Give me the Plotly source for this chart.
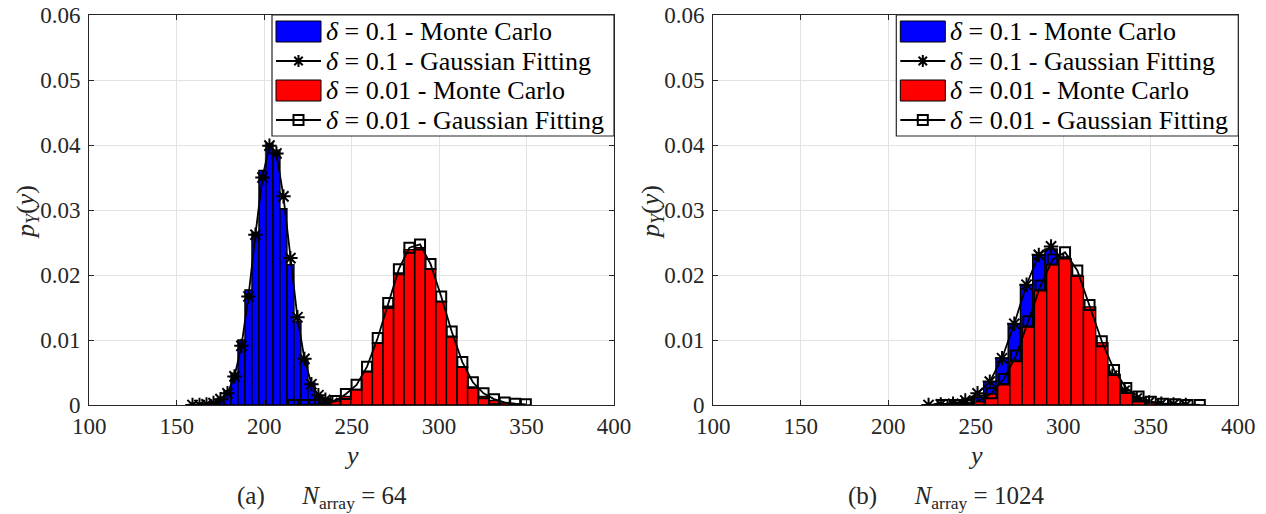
import plotly.graph_objects as go

# ---------------------------------------------------------------- data
x_tick_vals = [100, 150, 200, 250, 300, 350, 400]
x_tick_text = ["100", "150", "200", "250", "300", "350", "400"]
y_tick_vals = [0, 0.01, 0.02, 0.03, 0.04, 0.05, 0.06]
y_tick_text = ["0", "0.01", "0.02", "0.03", "0.04", "0.05", "0.06"]

# (a) N_array = 64, delta = 0.1
a_y_d01 = [159, 163, 167, 171, 175, 179, 183, 187, 191, 195, 199,
           203, 207, 211, 215, 219, 223, 227, 231, 235, 239, 243]
a_mc_d01 = [0.0001, 0.0001, 0.0002, 0.0004, 0.0010, 0.0022, 0.0049, 0.0100,
            0.0177, 0.0265, 0.0361, 0.0402, 0.0392, 0.0302, 0.0216, 0.0129,
            0.0070, 0.0034, 0.0013, 0.0006, 0.0002, 0.0001]
a_fit_d01 = [0.0000, 0.0000, 0.0001, 0.0003, 0.0009, 0.0018, 0.0044, 0.0091,
             0.0167, 0.0262, 0.0350, 0.0399, 0.0387, 0.0321, 0.0226, 0.0135,
             0.0071, 0.0032, 0.0015, 0.0008, 0.0003, 0.0000]

# (a) N_array = 64, delta = 0.01
a_y_d001 = [216.5, 222.5, 228.6, 234.6, 240.7, 246.7, 252.8, 258.8, 264.9,
            270.9, 277.0, 283.0, 289.1, 295.1, 301.2, 307.2, 313.3, 319.3,
            325.4, 331.4, 337.5, 343.5, 349.6]
a_mc_d001 = [0.0000, 0.0000, 0.0001, 0.0002, 0.0006, 0.0013, 0.0024, 0.0052,
             0.0095, 0.0152, 0.0203, 0.0239, 0.0242, 0.0209, 0.0159, 0.0105,
             0.0059, 0.0026, 0.0013, 0.0007, 0.0003, 0.0001, 0.0000]
a_fit_d001 = [0.0000, 0.0000, 0.0000, 0.0001, 0.0006, 0.0017, 0.0031, 0.0059,
              0.0103, 0.0157, 0.0209, 0.0242, 0.0247, 0.0217, 0.0167, 0.0113,
              0.0066, 0.0035, 0.0018, 0.0009, 0.0004, 0.0002, 0.0001]

# (b) N_array = 1024, delta = 0.1
b_y_d01 = [223, 230, 237, 244, 251, 258, 265, 272, 279, 286, 293,
           300, 307, 314, 321, 328, 335, 342, 349, 356, 363, 370]
b_mc_d01 = [0.0000, 0.0001, 0.0001, 0.0003, 0.0012, 0.0036, 0.0072, 0.0125,
            0.0185, 0.0230, 0.0240, 0.0212, 0.0180, 0.0128, 0.0078, 0.0040,
            0.0016, 0.0006, 0.0002, 0.0001, 0.0000, 0.0000]
b_fit_d01 = [0.0000, 0.0001, 0.0002, 0.0007, 0.0018, 0.0036, 0.0072, 0.0125,
             0.0185, 0.0231, 0.0244, 0.0222, 0.0178, 0.0128, 0.0080, 0.0045,
             0.0022, 0.0010, 0.0004, 0.0002, 0.0001, 0.0000]

# (b) N_array = 1024, delta = 0.01
b_y_d001 = [231, 238, 245, 252, 259, 266, 273, 280, 287, 294, 301,
            308, 315, 322, 329, 336, 343, 350, 357, 364, 371, 378]
b_mc_d001 = [0.0000, 0.0001, 0.0002, 0.0005, 0.0017, 0.0031, 0.0067, 0.0120,
             0.0177, 0.0216, 0.0225, 0.0198, 0.0151, 0.0096, 0.0047, 0.0018,
             0.0007, 0.0003, 0.0001, 0.0001, 0.0000, 0.0000]
b_fit_d001 = [0.0000, 0.0000, 0.0001, 0.0007, 0.0018, 0.0040, 0.0076, 0.0129,
              0.0184, 0.0224, 0.0235, 0.0207, 0.0154, 0.0098, 0.0054, 0.0026,
              0.0013, 0.0005, 0.0002, 0.0001, 0.0000, 0.0000]

legend_labels = ["<i>δ</i> = 0.1 - Monte Carlo",
                 "<i>δ</i> = 0.1 - Gaussian Fitting",
                 "<i>δ</i> = 0.01 - Monte Carlo",
                 "<i>δ</i> = 0.01 - Gaussian Fitting"]
captions = ["(a)\u2003\u2002<i>N</i><sub>array</sub> = 64",
            "(b)\u2003\u2002<i>N</i><sub>array</sub> = 1024"]

# ---------------------------------------------------------------- styling
W, H = 1266, 514
TOP, BOTTOM = 15, 405            # pixel rows of the axes box
FONT = "Times New Roman, Liberation Serif, serif"
BLUE, RED, INK = "#0000ff", "#ff0000", "#262626"


def fx(px):
    return px / W


def fy(py):
    return (BOTTOM - py) / (BOTTOM - TOP)


def bars(centers, heights, color, xa, ya):
    return go.Bar(x=centers, y=heights, width=centers[1] - centers[0],
                  marker=dict(color=color, line=dict(color="black", width=1.4)),
                  xaxis=xa, yaxis=ya, showlegend=False, hoverinfo="x+y")


def fit(centers, values, symbol, size, xa, ya):
    return go.Scatter(x=centers, y=values, mode="lines+markers",
                      line=dict(color="black", width=1.8),
                      marker=dict(symbol=symbol, size=size, color="black",
                                  line=dict(color="black", width=2)),
                      xaxis=xa, yaxis=ya, showlegend=False)


fig = go.Figure()
panels = [
    ("x", "y", "x3", "y3", a_y_d01, a_mc_d01, a_fit_d01, a_y_d001, a_mc_d001, a_fit_d001),
    ("x2", "y2", "x4", "y4", b_y_d01, b_mc_d01, b_fit_d01, b_y_d001, b_mc_d001, b_fit_d001),
]
for xa, ya, xo, yo, c1, m1, f1, c2, m2, f2 in panels:
    fig.add_trace(bars(c1, m1, BLUE, xa, ya))
    fig.add_trace(fit(c1, f1, "asterisk-open", 12, xa, ya))
    # delta = 0.01 goes on an overlaid axis pair so it is painted above delta = 0.1
    fig.add_trace(bars(c2, m2, RED, xo, yo))
    fig.add_trace(fit(c2, f2, "square-open", 10, xo, yo))

tick_font = dict(family=FONT, size=23, color=INK)
xbase = dict(range=[100, 400], tickvals=x_tick_vals, ticktext=x_tick_text,
             showline=True, linecolor=INK, linewidth=1.2, mirror="ticks",
             ticks="inside", ticklen=5, tickcolor=INK, tickwidth=1,
             showgrid=True, gridcolor="#e3e3e3", gridwidth=1, zeroline=False,
             tickfont=tick_font, fixedrange=True, automargin=False)
ybase = dict(range=[0, 0.06], tickvals=y_tick_vals, ticktext=y_tick_text,
             showline=True, linecolor=INK, linewidth=1.2, mirror="ticks",
             ticks="inside", ticklen=5, tickcolor=INK, tickwidth=1,
             showgrid=True, gridcolor="#e3e3e3", gridwidth=1, zeroline=False,
             tickfont=tick_font, fixedrange=True, automargin=False,
             ticklabelstandoff=3)

left_box = (89.3, 614.0)
right_box = (713.3, 1238.3)

fig.update_layout(
    width=W, height=H,
    margin=dict(l=0, r=0, t=TOP, b=H - BOTTOM, autoexpand=False),
    paper_bgcolor="white", plot_bgcolor="white",
    barmode="overlay",
    xaxis=dict(xbase, domain=[fx(left_box[0]), fx(left_box[1])], anchor="y"),
    yaxis=dict(ybase, domain=[0, 1], anchor="x"),
    xaxis2=dict(xbase, domain=[fx(right_box[0]), fx(right_box[1])], anchor="y2"),
    yaxis2=dict(ybase, domain=[0, 1], anchor="x2"),
    xaxis3=dict(range=[100, 400], overlaying="x", anchor="y3", visible=False, fixedrange=True),
    yaxis3=dict(range=[0, 0.06], overlaying="y", anchor="x3", visible=False, fixedrange=True),
    xaxis4=dict(range=[100, 400], overlaying="x2", anchor="y4", visible=False, fixedrange=True),
    yaxis4=dict(range=[0, 0.06], overlaying="y2", anchor="x4", visible=False, fixedrange=True),
    showlegend=False,
)

shapes, annotations = [], []

# legend boxes, drawn in the top-right corner of each axes
LEG_W, LEG_H = 342, 121
ROWS = [31.5, 61.0, 90.5, 120.0]
for (x0, x1) in (left_box, right_box):
    R = x1
    shapes.append(dict(type="rect", xref="paper", yref="paper",
                       x0=fx(R - LEG_W), x1=fx(R), y0=fy(TOP + LEG_H), y1=fy(TOP),
                       fillcolor="white", line=dict(color=INK, width=1.2), layer="above"))
    sx0, sx1 = R - 338, R - 293
    mx = (sx0 + sx1) / 2
    for i, row in enumerate(ROWS):
        if i in (0, 2):
            shapes.append(dict(type="rect", xref="paper", yref="paper",
                               x0=fx(sx0), x1=fx(sx1), y0=fy(row + 10.5), y1=fy(row - 10.5),
                               fillcolor=BLUE if i == 0 else RED,
                               line=dict(color="black", width=1), layer="above"))
        else:
            shapes.append(dict(type="line", xref="paper", yref="paper",
                               x0=fx(sx0), x1=fx(sx1), y0=fy(row), y1=fy(row),
                               line=dict(color="black", width=1.8), layer="above"))
            if i == 1:
                r, d = 6.0, 4.2
                path = (f"M{fx(mx - r)},{fy(row)} L{fx(mx + r)},{fy(row)} "
                        f"M{fx(mx)},{fy(row - r)} L{fx(mx)},{fy(row + r)} "
                        f"M{fx(mx - d)},{fy(row - d)} L{fx(mx + d)},{fy(row + d)} "
                        f"M{fx(mx - d)},{fy(row + d)} L{fx(mx + d)},{fy(row - d)}")
                shapes.append(dict(type="path", xref="paper", yref="paper", path=path,
                                   line=dict(color="black", width=2), layer="above"))
            else:
                h = 5
                shapes.append(dict(type="rect", xref="paper", yref="paper",
                                   x0=fx(mx - h), x1=fx(mx + h), y0=fy(row + h), y1=fy(row - h),
                                   line=dict(color="black", width=2), layer="above"))
        annotations.append(dict(xref="paper", yref="paper", x=fx(R - 290), y=fy(row),
                                xanchor="left", yanchor="middle", showarrow=False,
                                text=legend_labels[i],
                                font=dict(family=FONT, size=26, color="black")))

# axis titles and sub-captions
label_font = dict(family=FONT, size=26, color=INK)
for (x0, x1), cap, cap_x, ylab_x in ((left_box, captions[0], 322, 9),
                                     (right_box, captions[1], 946, 634)):
    annotations.append(dict(xref="paper", yref="paper", x=fx((x0 + x1) / 2), y=fy(455),
                            xanchor="center", yanchor="middle", showarrow=False,
                            text="<i>y</i>", font=label_font))
    annotations.append(dict(xref="paper", yref="paper", x=fx(ylab_x), y=fy(212),
                            xanchor="left", yanchor="middle", showarrow=False,
                            textangle=-90,
                            text="<i>p</i><sub><i>Y</i></sub>(<i>y</i>)", font=label_font))
    annotations.append(dict(xref="paper", yref="paper", x=fx(cap_x), y=fy(497),
                            xanchor="center", yanchor="middle", showarrow=False,
                            text=cap, font=dict(family=FONT, size=25, color=INK)))

fig.update_layout(shapes=shapes, annotations=annotations)
fig.write_html("out.html")
